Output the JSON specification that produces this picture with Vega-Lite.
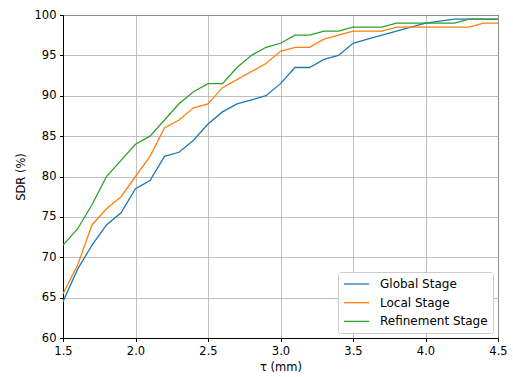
{
  "$schema": "https://vega.github.io/schema/vega-lite/v6.json",
  "width": 435,
  "height": 323,
  "autosize": "none",
  "padding": {"left": 63, "top": 15, "right": 15, "bottom": 39},
  "background": "white",
  "config": {
    "font": "DejaVu Sans",
    "view": {"stroke": "black", "strokeWidth": 1},
    "axis": {
      "domainColor": "black",
      "tickColor": "black",
      "tickSize": 3.5,
      "labelFont": "DejaVu Sans",
      "labelFontSize": 11.5,
      "labelColor": "black",
      "labelFlush": false,
      "labelOverlap": false,
      "titleFont": "DejaVu Sans",
      "titleFontSize": 11.5,
      "titleFontWeight": "normal",
      "titleColor": "black",
      "gridColor": "#b0b0b0",
      "gridWidth": 0.8,
      "labelPadding": 3.5
    },
    "legend": {
      "labelFont": "DejaVu Sans",
      "labelFontSize": 12,
      "labelColor": "black"
    }
  },
  "data": {
    "values": [
      {"tau": 1.5, "stage": "Global Stage", "sdr": 64.5},
      {"tau": 1.6, "stage": "Global Stage", "sdr": 68.5},
      {"tau": 1.7, "stage": "Global Stage", "sdr": 71.5},
      {"tau": 1.8, "stage": "Global Stage", "sdr": 74},
      {"tau": 1.9, "stage": "Global Stage", "sdr": 75.5},
      {"tau": 2.0, "stage": "Global Stage", "sdr": 78.5},
      {"tau": 2.1, "stage": "Global Stage", "sdr": 79.5},
      {"tau": 2.2, "stage": "Global Stage", "sdr": 82.5},
      {"tau": 2.3, "stage": "Global Stage", "sdr": 83},
      {"tau": 2.4, "stage": "Global Stage", "sdr": 84.5},
      {"tau": 2.5, "stage": "Global Stage", "sdr": 86.5},
      {"tau": 2.6, "stage": "Global Stage", "sdr": 88},
      {"tau": 2.7, "stage": "Global Stage", "sdr": 89},
      {"tau": 2.8, "stage": "Global Stage", "sdr": 89.5},
      {"tau": 2.9, "stage": "Global Stage", "sdr": 90},
      {"tau": 3.0, "stage": "Global Stage", "sdr": 91.5},
      {"tau": 3.1, "stage": "Global Stage", "sdr": 93.5},
      {"tau": 3.2, "stage": "Global Stage", "sdr": 93.5},
      {"tau": 3.3, "stage": "Global Stage", "sdr": 94.5},
      {"tau": 3.4, "stage": "Global Stage", "sdr": 95},
      {"tau": 3.5, "stage": "Global Stage", "sdr": 96.5},
      {"tau": 3.6, "stage": "Global Stage", "sdr": 97},
      {"tau": 3.7, "stage": "Global Stage", "sdr": 97.5},
      {"tau": 3.8, "stage": "Global Stage", "sdr": 98},
      {"tau": 3.9, "stage": "Global Stage", "sdr": 98.5},
      {"tau": 4.0, "stage": "Global Stage", "sdr": 99},
      {"tau": 4.1, "stage": "Global Stage", "sdr": 99.25},
      {"tau": 4.2, "stage": "Global Stage", "sdr": 99.5},
      {"tau": 4.3, "stage": "Global Stage", "sdr": 99.5},
      {"tau": 4.4, "stage": "Global Stage", "sdr": 99.5},
      {"tau": 4.5, "stage": "Global Stage", "sdr": 99.5},
      {"tau": 1.5, "stage": "Local Stage", "sdr": 65.5},
      {"tau": 1.6, "stage": "Local Stage", "sdr": 69},
      {"tau": 1.7, "stage": "Local Stage", "sdr": 74},
      {"tau": 1.8, "stage": "Local Stage", "sdr": 76},
      {"tau": 1.9, "stage": "Local Stage", "sdr": 77.5},
      {"tau": 2.0, "stage": "Local Stage", "sdr": 80},
      {"tau": 2.1, "stage": "Local Stage", "sdr": 82.5},
      {"tau": 2.2, "stage": "Local Stage", "sdr": 86},
      {"tau": 2.3, "stage": "Local Stage", "sdr": 87},
      {"tau": 2.4, "stage": "Local Stage", "sdr": 88.5},
      {"tau": 2.5, "stage": "Local Stage", "sdr": 89},
      {"tau": 2.6, "stage": "Local Stage", "sdr": 91},
      {"tau": 2.7, "stage": "Local Stage", "sdr": 92},
      {"tau": 2.8, "stage": "Local Stage", "sdr": 93},
      {"tau": 2.9, "stage": "Local Stage", "sdr": 94},
      {"tau": 3.0, "stage": "Local Stage", "sdr": 95.5},
      {"tau": 3.1, "stage": "Local Stage", "sdr": 96},
      {"tau": 3.2, "stage": "Local Stage", "sdr": 96},
      {"tau": 3.3, "stage": "Local Stage", "sdr": 97},
      {"tau": 3.4, "stage": "Local Stage", "sdr": 97.5},
      {"tau": 3.5, "stage": "Local Stage", "sdr": 98},
      {"tau": 3.6, "stage": "Local Stage", "sdr": 98},
      {"tau": 3.7, "stage": "Local Stage", "sdr": 98},
      {"tau": 3.8, "stage": "Local Stage", "sdr": 98.5},
      {"tau": 3.9, "stage": "Local Stage", "sdr": 98.5},
      {"tau": 4.0, "stage": "Local Stage", "sdr": 98.5},
      {"tau": 4.1, "stage": "Local Stage", "sdr": 98.5},
      {"tau": 4.2, "stage": "Local Stage", "sdr": 98.5},
      {"tau": 4.3, "stage": "Local Stage", "sdr": 98.5},
      {"tau": 4.4, "stage": "Local Stage", "sdr": 99},
      {"tau": 4.5, "stage": "Local Stage", "sdr": 99},
      {"tau": 1.5, "stage": "Refinement Stage", "sdr": 71.5},
      {"tau": 1.6, "stage": "Refinement Stage", "sdr": 73.5},
      {"tau": 1.7, "stage": "Refinement Stage", "sdr": 76.5},
      {"tau": 1.8, "stage": "Refinement Stage", "sdr": 80},
      {"tau": 1.9, "stage": "Refinement Stage", "sdr": 82},
      {"tau": 2.0, "stage": "Refinement Stage", "sdr": 84},
      {"tau": 2.1, "stage": "Refinement Stage", "sdr": 85},
      {"tau": 2.2, "stage": "Refinement Stage", "sdr": 87},
      {"tau": 2.3, "stage": "Refinement Stage", "sdr": 89},
      {"tau": 2.4, "stage": "Refinement Stage", "sdr": 90.5},
      {"tau": 2.5, "stage": "Refinement Stage", "sdr": 91.5},
      {"tau": 2.6, "stage": "Refinement Stage", "sdr": 91.5},
      {"tau": 2.7, "stage": "Refinement Stage", "sdr": 93.5},
      {"tau": 2.8, "stage": "Refinement Stage", "sdr": 95},
      {"tau": 2.9, "stage": "Refinement Stage", "sdr": 96},
      {"tau": 3.0, "stage": "Refinement Stage", "sdr": 96.5},
      {"tau": 3.1, "stage": "Refinement Stage", "sdr": 97.5},
      {"tau": 3.2, "stage": "Refinement Stage", "sdr": 97.5},
      {"tau": 3.3, "stage": "Refinement Stage", "sdr": 98},
      {"tau": 3.4, "stage": "Refinement Stage", "sdr": 98},
      {"tau": 3.5, "stage": "Refinement Stage", "sdr": 98.5},
      {"tau": 3.6, "stage": "Refinement Stage", "sdr": 98.5},
      {"tau": 3.7, "stage": "Refinement Stage", "sdr": 98.5},
      {"tau": 3.8, "stage": "Refinement Stage", "sdr": 99},
      {"tau": 3.9, "stage": "Refinement Stage", "sdr": 99},
      {"tau": 4.0, "stage": "Refinement Stage", "sdr": 99},
      {"tau": 4.1, "stage": "Refinement Stage", "sdr": 99},
      {"tau": 4.2, "stage": "Refinement Stage", "sdr": 99},
      {"tau": 4.3, "stage": "Refinement Stage", "sdr": 99.5},
      {"tau": 4.4, "stage": "Refinement Stage", "sdr": 99.5},
      {"tau": 4.5, "stage": "Refinement Stage", "sdr": 99.5}
    ]
  },
  "mark": {"type": "line", "strokeWidth": 1.3, "clip": true},
  "encoding": {
    "x": {
      "field": "tau",
      "type": "quantitative",
      "scale": {"domain": [1.5, 4.5], "nice": false, "zero": false},
      "axis": {"values": [1.5, 2.0, 2.5, 3.0, 3.5, 4.0, 4.5], "format": ".1f", "title": "τ (mm)", "titlePadding": 5}
    },
    "y": {
      "field": "sdr",
      "type": "quantitative",
      "scale": {"domain": [60, 100], "nice": false, "zero": false},
      "axis": {"values": [60, 65, 70, 75, 80, 85, 90, 95, 100], "title": "SDR (%)", "titlePadding": 8}
    },
    "color": {
      "field": "stage",
      "type": "nominal",
      "scale": {
        "domain": ["Global Stage", "Local Stage", "Refinement Stage"],
        "range": ["#1f77b4", "#ff7f0e", "#2ca02c"]
      },
      "legend": {
        "title": null,
        "orient": "bottom-right",
        "offset": 5,
        "padding": 5,
        "fillColor": "white",
        "strokeColor": "#cccccc",
        "cornerRadius": 3,
        "symbolType": "M-1,0H3.2",
        "symbolSize": 144,
        "symbolStrokeWidth": 1.3,
        "labelOffset": 23,
        "rowPadding": 5.7
      }
    }
  }
}
